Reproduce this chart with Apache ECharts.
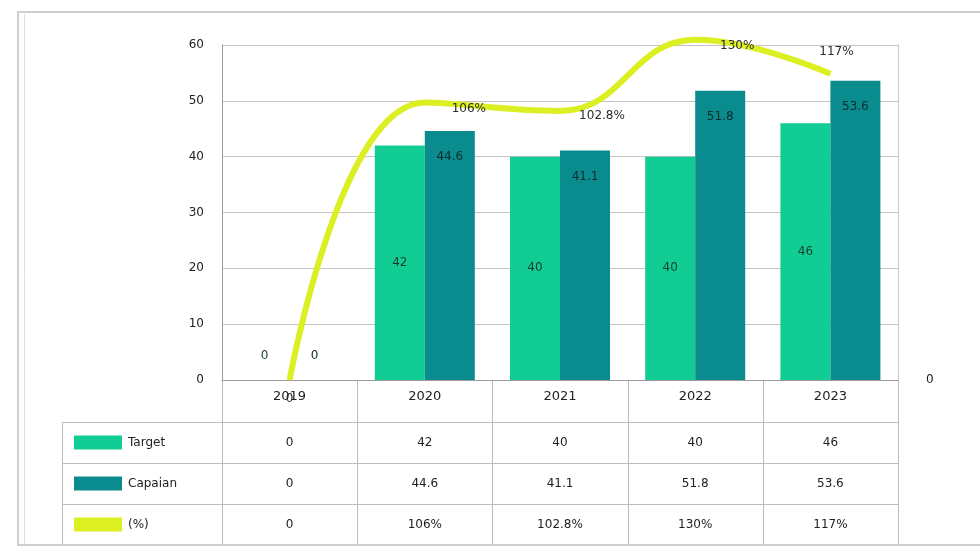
<!DOCTYPE html>
<html>
<head>
<meta charset="utf-8">
<script src="https://cdn.jsdelivr.net/npm/echarts@6/dist/echarts.min.js"></script>
<style>
  html, body { margin: 0; padding: 0; background: #fff; }
  #chart { width: 980px; height: 553px; }
</style>
</head>
<body>
<div id="chart"></div>
<script>
// Yearly target vs. achievement with achievement ratio
const years = ['2019', '2020', '2021', '2022', '2023'];
const target = [0, 42, 40, 40, 46];
const capaian = [0, 44.6, 41.1, 51.8, 53.6];
const percent = [0, 106, 102.8, 130, 117];
const seriesNames = ['Target', 'Capaian', '(%)'];

const colors = ['#12cd93', '#0a8b8d', '#dcef22'];
const FONT = 'DejaVu Sans, Verdana, sans-serif';
const gridBox = { left: 222, right: 82, top: 45, bottom: 173 };

// ratio label offsets (relative to the point)
const pctOffsets = [[0, 30], [44, 18], [42, 16], [42, 18], [6, -10]];

const fmtPct = v => (v === 0 ? '0' : v + '%');

const chart = echarts.init(document.getElementById('chart'), null, { renderer: 'canvas' });

chart.setOption({
  animation: false,
  backgroundColor: '#fff',
  grid: gridBox,
  xAxis: {
    type: 'category',
    data: years,
    axisLine: { lineStyle: { color: '#9a9a9a', width: 1 } },
    axisTick: { show: false },
    axisLabel: { color: '#222', fontFamily: FONT, fontSize: 13, margin: 10 }
  },
  yAxis: [
    {
      type: 'value', min: 0, max: 60, interval: 10,
      axisLine: { show: true, lineStyle: { color: '#9a9a9a' } },
      axisTick: { show: false },
      axisLabel: { color: '#222', fontFamily: FONT, fontSize: 12, margin: 18 },
      splitLine: { lineStyle: { color: '#c4c4c4', width: 1 } }
    },
    {
      type: 'value', min: 0, max: 128, interval: 128,
      position: 'right',
      axisLine: { show: true, lineStyle: { color: '#c8c8c8' } },
      axisTick: { show: false },
      axisLabel: {
        color: '#222', fontFamily: FONT, fontSize: 12, margin: 28,
        formatter: v => (v === 0 ? '0' : '')
      },
      splitLine: { show: false }
    }
  ],
  series: [
    {
      name: seriesNames[0], type: 'bar', barWidth: 50, barGap: '0%',
      itemStyle: { color: colors[0] },
      data: target.map(v => ({
        value: v,
        label: { position: v === 0 ? 'top' : 'inside', distance: 18 }
      })),
      label: { show: true, color: '#163b30', fontFamily: FONT, fontSize: 12 }
    },
    {
      name: seriesNames[1], type: 'bar', barWidth: 50, barGap: '0%',
      itemStyle: { color: colors[1] },
      data: capaian.map(v => ({
        value: v,
        label: { position: v === 0 ? 'top' : 'insideTop', distance: v === 0 ? 18 : 20 }
      })),
      label: { show: true, color: '#0f2b2b', fontFamily: FONT, fontSize: 12 }
    },
    {
      name: seriesNames[2], type: 'line', yAxisIndex: 1, smooth: 0.45,
      clip: false, symbol: 'circle', symbolSize: 1, showSymbol: true, z: 5,
      lineStyle: { color: colors[2], width: 6 },
      itemStyle: { color: colors[2] },
      data: percent.map((v, i) => ({
        value: v,
        label: { offset: pctOffsets[i] }
      })),
      label: {
        show: true, position: 'top', color: '#2b2b2b',
        fontFamily: FONT, fontSize: 12, formatter: p => fmtPct(p.value)
      }
    }
  ]
});

// Data table beneath the plot, aligned to the category bands
function drawTable() {
  const graphics = [];
  const lineStyle = { stroke: '#bdbdbd', lineWidth: 1 };
  const x0 = chart.convertToPixel({ xAxisIndex: 0 }, years[0]);
  const x1 = chart.convertToPixel({ xAxisIndex: 0 }, years[1]);
  const band = x1 - x0;
  const axisY = chart.convertToPixel({ yAxisIndex: 0 }, 0);
  const tableLeft = 62;
  const rowTop = 422;
  const rowH = 41;
  const rows = [target, capaian, percent];
  const tableBottom = rowTop + rowH * rows.length;
  const rightEdge = x0 - band / 2 + band * years.length;

  // column borders
  for (let i = 0; i <= years.length; i++) {
    const x = Math.round(x0 - band / 2 + band * i) + 0.5;
    graphics.push({ type: 'line', silent: true,
      shape: { x1: x, y1: axisY, x2: x, y2: tableBottom }, style: lineStyle });
  }
  graphics.push({ type: 'line', silent: true,
    shape: { x1: tableLeft + 0.5, y1: rowTop, x2: tableLeft + 0.5, y2: tableBottom }, style: lineStyle });
  // row borders
  for (let r = 0; r <= rows.length; r++) {
    const y = rowTop + rowH * r + 0.5;
    graphics.push({ type: 'line', silent: true,
      shape: { x1: tableLeft, y1: y, x2: rightEdge, y2: y }, style: lineStyle });
  }
  // row headers with legend keys
  rows.forEach((vals, r) => {
    const cy = rowTop + rowH * r + rowH / 2;
    graphics.push({ type: 'rect', silent: true,
      shape: { x: 74, y: cy - 7, width: 48, height: 14 },
      style: { fill: colors[r] } });
    graphics.push({ type: 'text', silent: true,
      style: { text: seriesNames[r], x: 128, y: cy, align: 'left', verticalAlign: 'middle',
        font: '12px ' + FONT, fill: '#222' } });
    vals.forEach((v, c) => {
      const cx = chart.convertToPixel({ xAxisIndex: 0 }, years[c]);
      graphics.push({ type: 'text', silent: true,
        style: { text: r === 2 ? fmtPct(v) : String(v), x: cx, y: cy,
          align: 'center', verticalAlign: 'middle', font: '12px ' + FONT, fill: '#222' } });
    });
  });
  // outer frame
  graphics.push({ type: 'rect', silent: true,
    shape: { x: 18, y: 12, width: 970, height: 533 },
    style: { fill: null, stroke: '#cfcfcf', lineWidth: 2 } });
  graphics.push({ type: 'line', silent: true,
    shape: { x1: 24.5, y1: 14, x2: 24.5, y2: 545 }, style: { stroke: '#dedede', lineWidth: 1 } });

  chart.setOption({ graphic: graphics });
}
drawTable();
</script>
</body>
</html>
